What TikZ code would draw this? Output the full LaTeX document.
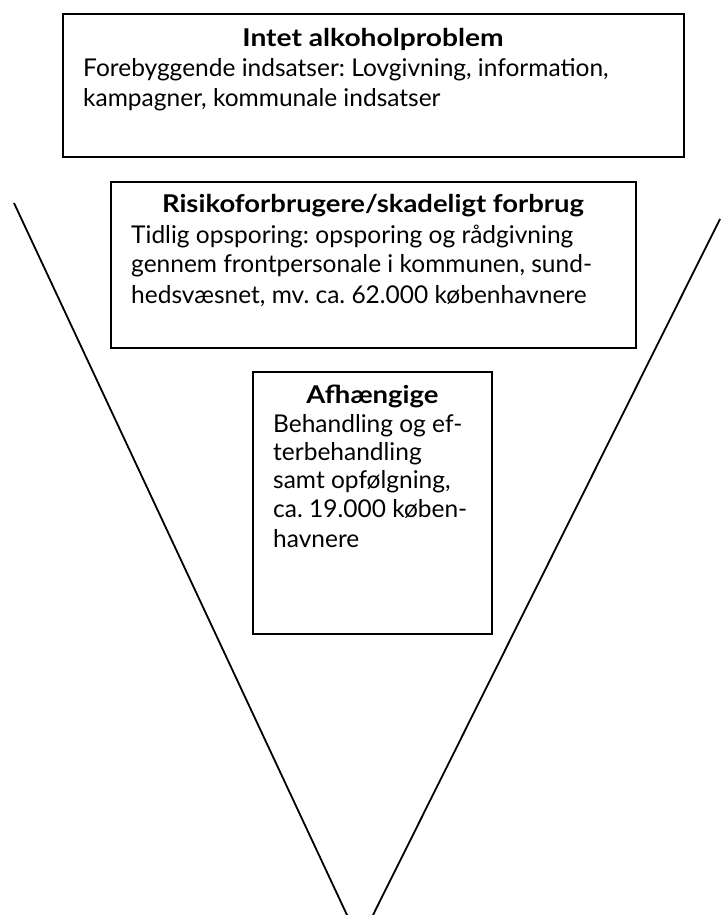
\documentclass[tikz,border=0pt]{standalone}
\usepackage{fontspec}
\usepackage{graphicx}
\setmainfont{Lato}
\frenchspacing
\begin{document}
\begin{tikzpicture}[x=1pt,y=-1pt,
  box/.style={draw, line width=1.8pt, inner sep=0pt, anchor=north west},
  body/.style={anchor=base west, inner sep=0pt, font=\fontsize{24.5}{28}\selectfont},
  ttl/.style={anchor=base, inner sep=0pt, font=\fontsize{24.5}{28}\selectfont\bfseries},
  vline/.style={line width=1.8pt}]
\useasboundingbox (0,0) rectangle (720,915);
% funnel lines
\coordinate (lt) at (14,203);
\coordinate (lb) at (347,915);
\coordinate (rt) at (720,219);
\coordinate (rb) at (373,915);
\draw[vline] (lt) -- (lb);
\draw[vline] (rt) -- (rb);
% box 1
\node[box, minimum width=621pt, minimum height=143pt] (b1) at (62,13) {};
\node[ttl] (t1) at (373,47) {\scalebox{1.15}[1]{Intet alkoholproblem}};
\node[body] (t1a) at (83,77) {Forebyggende indsatser: Lovgivning, information,};
\node[body] (t1b) at (83,107) {kampagner, kommunale indsatser};
% box 2
\node[box, minimum width=525pt, minimum height=166pt] (b2) at (110,181) {};
\node[ttl] (t2) at (373,212) {\scalebox{1.12}[1]{Risikoforbrugere/skadeligt forbrug}};
\node[body] (t2a) at (131,243) {Tidlig opsporing: opsporing og rådgivning};
\node[body] (t2b) at (131,272) {gennem frontpersonale i kommunen, sund-};
\node[body] (t2c) at (131,303) {hedsvæsnet, mv. ca. 62.000 københavnere};
% box 3
\node[box, minimum width=239pt, minimum height=262pt] (b3) at (252,371) {};
\node[ttl] (t3) at (372.5,403) {\scalebox{1.12}[1]{Afhængige}};
\node[body] (t3a) at (273,432) {Behandling og ef-};
\node[body] (t3b) at (273,460) {terbehandling};
\node[body] (t3c) at (273,488) {samt opfølgning,};
\node[body] (t3d) at (273,517) {ca. 19.000 køben-};
\node[body] (t3e) at (273,547) {havnere};
\end{tikzpicture}
\end{document}
